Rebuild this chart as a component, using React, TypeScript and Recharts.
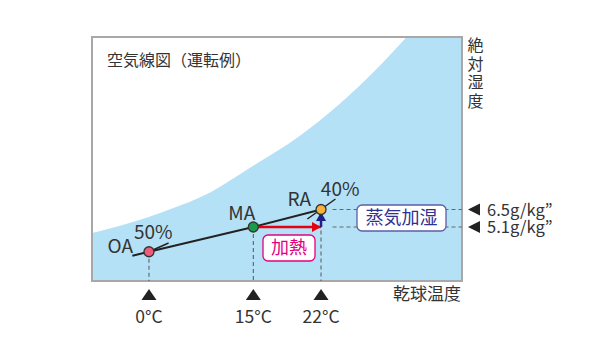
import React from 'react';
import {
    ComposedChart,
    Area,
    Line,
    Scatter,
    XAxis,
    YAxis,
    ReferenceLine,
    ReferenceArea,
} from 'recharts';

// 横位置は図上の相対位置 (0-100)、縦は絶対湿度 g/kg
const saturationPos = [0, 10.1, 20.9, 31.8, 42.6, 56.1, 66.9, 77.7, 85.0, 92, 100];
const saturationG = [4.62, 5.42, 6.5, 7.85, 9.82, 12.38, 14.94, 17.98, 20.3, 22.6, 25.2];

const pointNames = ['OA', 'MA', 'RA'];
const pointPos = [15.4, 43.6, 61.9];
const pointG = [3.12, 5.1, 6.5];
const pointColors = ['#ef5b7a', '#1b9a4a', '#f6b23a'];

const tempTickPos = [15.4, 43.6, 61.9];
const tempTickLabels = ['0°C', '15°C', '22°C'];

const humidityTicks = [5.1, 6.5];
const humidityLabels = ['5.1g/kg”', '6.5g/kg”'];

// 状態変化の線
const processPos = [10.9, 15.4, 43.6, 61.9];
const processG = [2.8, 3.12, 5.1, 6.5];

// 相対湿度の引出線
const rhNames = ['50%', '40%'];
const rhFrom = [[15.4, 3.12], [58.2, 5.74]];
const rhTo = [[20.7, 3.82], [65.8, 7.34]];

const heatFrom = [43.6, 5.1];
const heatTo = [61.9, 5.1];
const steamFrom = [61.9, 5.1];
const steamTo = [61.9, 6.3];

const guideStart = 65;

const X_DOMAIN: [number, number] = [0, 100];
const Y_DOMAIN: [number, number] = [0.78, 20.3];

const saturationData = saturationPos.map((pos, i) => ({ pos, g: saturationG[i] }));
const pointData = pointNames.map((name, i) => ({ name, pos: pointPos[i], g: pointG[i], color: pointColors[i] }));
const processData = processPos.map((pos, i) => ({ pos, g: processG[i] }));

const FONT = '"Noto Sans CJK JP", "Noto Sans", sans-serif';
const TEXT = '#333';

const labelShift: Record<string, [number, number]> = {
    OA: [-16, 1],
    MA: [2, -7],
    RA: [-10, -4],
    '50%': [4, -4],
    '40%': [24, -3],
};

const TempTick = (props: any) => {
    const { x, y, payload } = props;
    const idx = tempTickPos.indexOf(payload.value);
    return (
        <g>
            <polygon points={`${x - 7.5},${y + 19} ${x + 7.5},${y + 19} ${x},${y + 8}`} fill="#222" />
            <text x={x} y={y + 42} textAnchor="middle" fontSize={17.5} fill={TEXT} fontFamily={FONT}>
                {tempTickLabels[idx]}
            </text>
        </g>
    );
};

const HumidityTick = (props: any) => {
    const { x, y, payload } = props;
    const idx = humidityTicks.indexOf(payload.value);
    return (
        <g>
            <polygon points={`${x + 6},${y} ${x + 18},${y - 6} ${x + 18},${y + 6}`} fill="#222" />
            <text x={x + 25} y={y + 6} fontSize={16.5} fill={TEXT} fontFamily={FONT}>
                {humidityLabels[idx]}
            </text>
        </g>
    );
};

const PointShape = (props: any) => {
    const { cx, cy, payload } = props;
    const [dx, dy] = labelShift[payload.name];
    return (
        <g>
            <circle cx={cx} cy={cy} r={5} fill={payload.color} stroke="#333" strokeWidth={1.3} />
            <text x={cx + dx} y={cy + dy} textAnchor="end" fontSize={19} fill={TEXT} fontFamily={FONT}>
                {payload.name}
            </text>
        </g>
    );
};

const arrowHead = (dir: 'right' | 'up', color: string) => (props: any) => {
    const { cx, cy, index } = props;
    if (index !== 1) return <g key={`h${index}`} />;
    const pts = dir === 'right'
        ? `${cx},${cy} ${cx - 9},${cy - 5} ${cx - 9},${cy + 5}`
        : `${cx},${cy} ${cx - 5},${cy + 9} ${cx + 5},${cy + 9}`;
    return <polygon key={`h${index}`} points={pts} fill={color} />;
};

const rhLabel = (name: string) => (props: any) => {
    const { cx, cy, index } = props;
    if (index !== 1) return <g key={`r${index}`} />;
    const [dx, dy] = labelShift[name];
    return (
        <text key={`r${index}`} x={cx + dx} y={cy + dy} textAnchor="end" fontSize={19} fill={TEXT} fontFamily={FONT}>
            {name}
        </text>
    );
};

const LabelBox = ({ x, y, w, h, text, color, border, size }: any) => (
    <g>
        <rect x={x} y={y} width={w} height={h} rx={5} fill="#fff" stroke={border} strokeWidth={1.3} />
        <text x={x + w / 2} y={y + h / 2 + size * 0.36} textAnchor="middle" fontSize={size} fill={color} fontFamily={FONT}>
            {text}
        </text>
    </g>
);

export default function App() {
    const axisChars = ['絶', '対', '湿', '度'];
    return (
        <div style={{ position: 'relative', width: 601, height: 351, background: '#fff', fontFamily: FONT }}>
            <style>{'body{margin:0}'}</style>
            <ComposedChart
                width={601}
                height={351}
                margin={{ top: 37, right: 0, bottom: 0, left: 92 }}
                style={{ fontFamily: FONT }}
            >
                <XAxis
                    type="number"
                    dataKey="pos"
                    domain={X_DOMAIN}
                    ticks={tempTickPos}
                    tick={<TempTick />}
                    axisLine={false}
                    tickLine={false}
                    tickSize={0}
                    tickMargin={0}
                    height={70}
                    allowDataOverflow
                    interval={0}
                />
                <YAxis
                    type="number"
                    orientation="right"
                    domain={Y_DOMAIN}
                    ticks={humidityTicks}
                    tick={<HumidityTick />}
                    axisLine={false}
                    tickLine={false}
                    tickSize={0}
                    tickMargin={0}
                    width={139}
                    allowDataOverflow
                    interval={0}
                />
                <Area
                    data={saturationData}
                    dataKey="g"
                    type="monotone"
                    fill="#b5e1f7"
                    fillOpacity={1}
                    stroke="none"
                    isAnimationActive={false}
                />
                {pointData.map((p) => (
                    <ReferenceLine
                        key={`v${p.name}`}
                        segment={[{ x: p.pos, y: p.g }, { x: p.pos, y: Y_DOMAIN[0] }]}
                        stroke="#555"
                        strokeDasharray="4 3"
                        strokeWidth={1}
                    />
                ))}
                {humidityTicks.map((t) => (
                    <ReferenceLine
                        key={`h${t}`}
                        segment={[{ x: guideStart, y: t }, { x: X_DOMAIN[1], y: t }]}
                        stroke="#666"
                        strokeDasharray="4 3"
                        strokeWidth={1}
                    />
                ))}
                <ReferenceArea
                    x1={X_DOMAIN[0]}
                    x2={X_DOMAIN[1]}
                    y1={Y_DOMAIN[0]}
                    y2={Y_DOMAIN[1]}
                    fill="none"
                    stroke="#a8a8a8"
                    strokeWidth={2}
                />
                <Line
                    data={processData}
                    dataKey="g"
                    type="linear"
                    stroke="#222"
                    strokeWidth={2}
                    dot={false}
                    isAnimationActive={false}
                />
                {rhNames.map((name, i) => (
                    <Line
                        key={name}
                        data={[{ pos: rhFrom[i][0], g: rhFrom[i][1] }, { pos: rhTo[i][0], g: rhTo[i][1] }]}
                        dataKey="g"
                        type="linear"
                        stroke="#222"
                        strokeWidth={1.5}
                        dot={rhLabel(name)}
                        activeDot={false}
                        isAnimationActive={false}
                    />
                ))}
                <Line
                    data={[{ pos: heatFrom[0], g: heatFrom[1] }, { pos: heatTo[0], g: heatTo[1] }]}
                    dataKey="g"
                    type="linear"
                    stroke="#e60012"
                    strokeWidth={2.5}
                    dot={arrowHead('right', '#e60012')}
                    activeDot={false}
                    isAnimationActive={false}
                />
                <Line
                    data={[{ pos: steamFrom[0], g: steamFrom[1] }, { pos: steamTo[0], g: steamTo[1] }]}
                    dataKey="g"
                    type="linear"
                    stroke="#1d2088"
                    strokeWidth={2.5}
                    dot={arrowHead('up', '#1d2088')}
                    activeDot={false}
                    isAnimationActive={false}
                />
                <Scatter data={pointData} dataKey="g" shape={<PointShape />} isAnimationActive={false} />
            </ComposedChart>
            <svg width={601} height={351} style={{ position: 'absolute', left: 0, top: 0, pointerEvents: 'none' }}>
                <text x={107} y={66} fontSize={16} fill={TEXT} fontFamily={FONT}>空気線図（運転例）</text>
                <text x={475.5} y={51} textAnchor="middle" fontSize={16} fill={TEXT} fontFamily={FONT}>
                    {axisChars.map((c, i) => (
                        <tspan key={c} x={475.5} dy={i === 0 ? 0 : 18.5}>{c}</tspan>
                    ))}
                </text>
                <text x={393} y={300} fontSize={17} fill={TEXT} fontFamily={FONT}>乾球温度</text>
                <LabelBox x={263} y={235} w={52} h={26} text="加熱" color="#e4007f" border="#e4007f" size={18} />
                <LabelBox x={357} y={205} w={89} h={26} text="蒸気加湿" color="#2e3092" border="#5b5ea6" size={18} />
            </svg>
        </div>
    );
}
